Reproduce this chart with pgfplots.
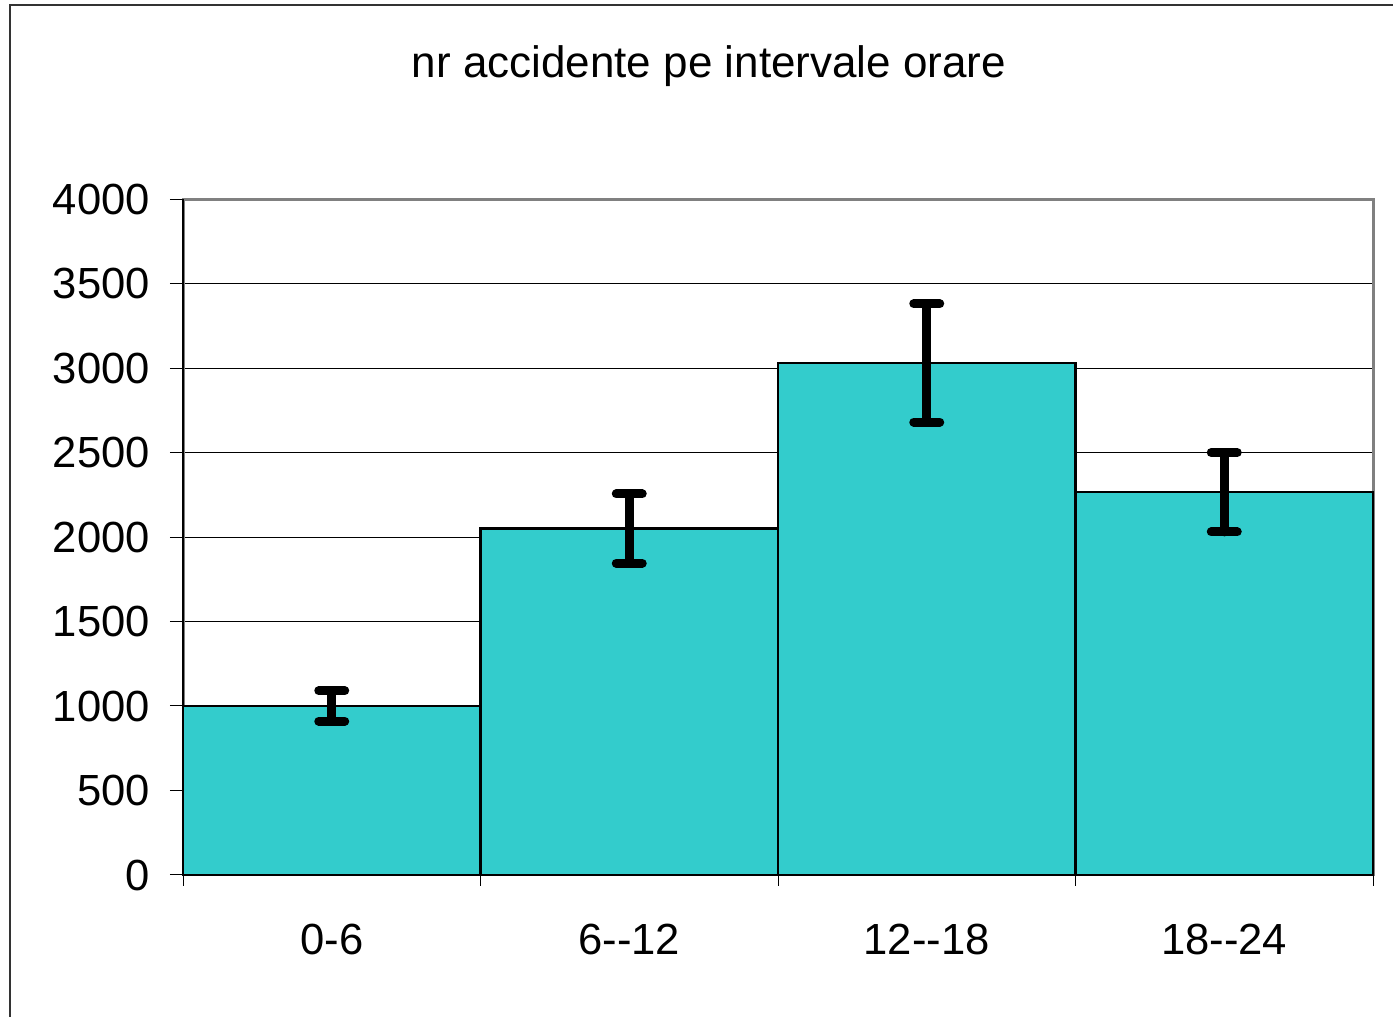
\documentclass[border=0pt]{standalone}
\usepackage{pgfplots}
\pgfplotsset{compat=1.18}
\usepackage{fontspec}
\setmainfont{Liberation Sans}
\definecolor{barc}{HTML}{33CCCC}
\definecolor{frameg}{HTML}{808080}
\begin{document}
\begin{tikzpicture}
\path[use as bounding box] (0,0) rectangle (696.5pt,508.5pt);
\draw[line width=1.2pt, color=black!80] (5pt,-5pt) -- (5pt,506pt) -- (705pt,506pt);
\node[anchor=base, font=\fontsize{22}{26}\selectfont] at (354.5pt,469.5pt) {nr accidente pe intervale orare};
\begin{axis}[
  at={(91.5pt,71pt)}, anchor=south west,
  scale only axis, width=595pt, height=338pt,
  xmin=-0.5, xmax=3.5, ymin=0, ymax=4000,
  ytick={0,500,...,4000},
  xtick={0,1,2,3},
  xticklabels={0-6,6-{}-12,12-{}-18,18-{}-24},
  minor xtick={-0.5,0.5,1.5,2.5,3.5},
  major x tick style={draw=none},
  xtick pos=bottom, ytick pos=left,
  minor tick length=5.5pt,
  major tick length=6.5pt,
  tick align=outside,
  tick style={black, line width=0.5pt},
  ymajorgrids, grid style={black, line width=0.45pt},
  axis line style={frameg, line width=1.5pt},
  ticklabel style={font=\fontsize{21.8}{24}\selectfont},
  yticklabel style={xshift=-6.5pt},
  xticklabel style={yshift=-14.5pt},
  /pgf/number format/assume math mode=true,
  /pgf/number format/1000 sep={},
  clip=false,
]
\addplot[ybar, bar width=1, bar shift=0, fill=barc, draw=black, line width=1.2pt,
  error bars/.cd, y dir=both, y explicit,
  error bar style={line width=4.5pt, line cap=round, black},
  error mark options={rotate=90, mark size=6.5pt, line width=4.5pt, line cap=round, black}]
  coordinates {
  (0,1000) +- (0,90)
  (1,2050) +- (0,205)
  (2,3030) +- (0,350)
  (3,2265) +- (0,235)
  };
\draw[black, line width=1pt] (axis cs:-0.5,0) -- (axis cs:-0.5,4000);
\draw[black, line width=1.2pt] (axis cs:-0.5,0) -- (axis cs:3.5,0);
\end{axis}
\end{tikzpicture}
\end{document}
